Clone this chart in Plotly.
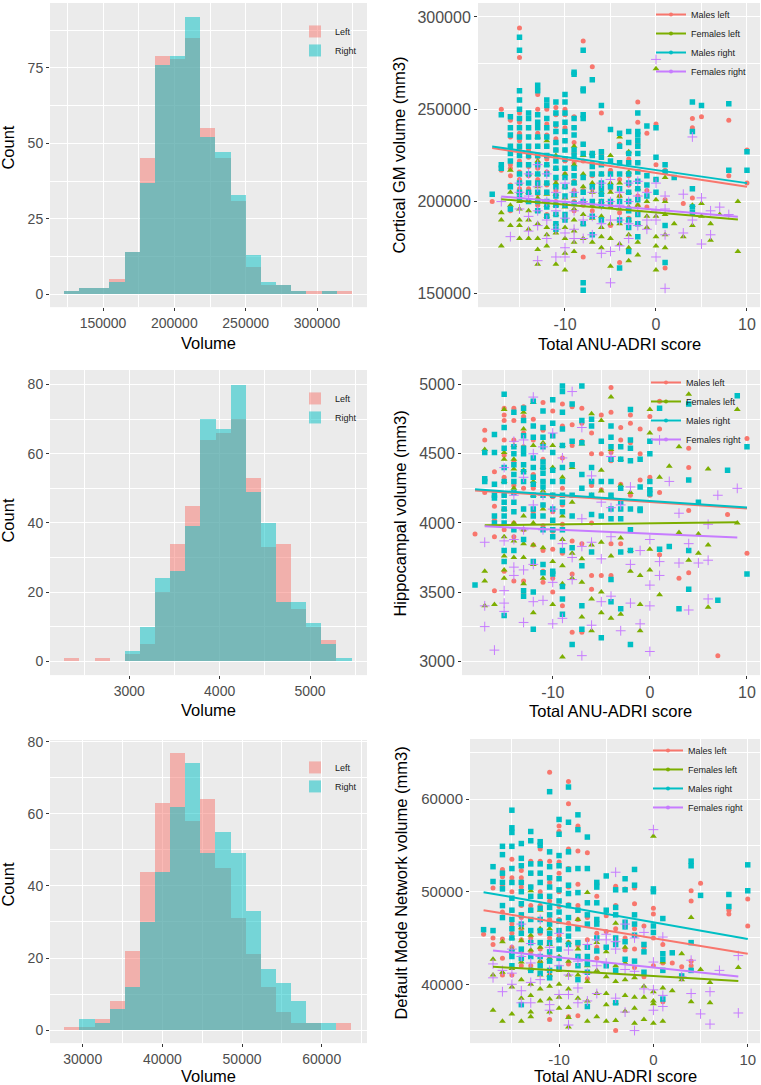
import numpy as np
import plotly.graph_objects as go

W, H = 761, 1085
FONT = "Liberation Sans, Arial, sans-serif"

# ---------------- Histogram data (counts per bin) ----------------
gm_bin_start, gm_bin_width = 122600, 10625
gm_left = [1, 2, 2, 5, 14, 45, 79, 78, 85, 55, 45, 31, 9, 3, 3, 1, 1, 1, 1]
gm_right = [1, 2, 2, 4, 14, 37, 76, 79, 92, 52, 47, 33, 13, 4, 3, 1, 0, 1, 0]

hc_bin_start, hc_bin_width = 2280, 167.4
hc_left = [1, 0, 1, 0, 2, 5, 20, 34, 45, 64, 66, 70, 53, 33, 34, 15, 10, 6, 0]
hc_right = [0, 0, 0, 0, 3, 10, 24, 26, 39, 70, 67, 80, 49, 40, 17, 17, 11, 5, 1]

dmn_bin_start, dmn_bin_width = 27700, 1896
dmn_left = [1, 1, 3, 8, 22, 44, 63, 77, 58, 64, 45, 31, 21, 12, 5, 2, 2, 0, 2]
dmn_right = [0, 3, 2, 6, 12, 30, 44, 62, 74, 49, 55, 49, 33, 17, 13, 8, 2, 2, 0]

# ---------------- Scatter data: score -> volumes ----------------
# Cortical GM volume, in thousands of mm3
gm_males_left = {
    -18: [200], -17: [250, 217],
    -16: [244, 235, 230, 220, 218, 214, 209, 195],
    -15: [294, 278, 255, 248, 243, 237, 233, 228, 222, 216, 212, 207, 201],
    -14: [245, 240, 235, 228, 224, 219, 214, 207, 200],
    -13: [261, 258, 250, 237, 230, 224, 218, 212, 209, 204, 198],
    -12: [250, 242, 236, 230, 223, 216, 209, 205, 200, 193],
    -11: [251, 247, 241, 234, 228, 218, 212, 206, 200],
    -10: [250, 247, 240, 233, 228, 222, 215, 208, 198],
    -9: [246, 240, 232, 226, 221, 211, 206, 200, 195],
    -8: [287, 246, 231, 222, 206, 198, 170],
    -7: [273, 221, 214, 207, 195], -6: [248, 225, 215, 207, 200],
    -5: [217, 207, 199, 187], -4: [231, 212, 203, 194, 167],
    -3: [232, 223, 214, 209, 191], -2: [254, 243, 231, 221, 203, 198],
    -1: [237, 206, 197], 0: [242, 220, 212], 1: [217, 201, 164],
    3: [199], 4: [245, 240, 202], 5: [246], 8: [244, 214], 10: [228, 210],
}
gm_females_left = {
    -17: [194, 190, 176], -16: [217, 205, 198, 187],
    -15: [210, 205, 200, 196, 190, 187, 180],
    -14: [215, 205, 200, 195, 190, 185, 180],
    -13: [235, 222, 215, 208, 202, 195, 188, 180, 174, 166],
    -12: [233, 220, 210, 204, 198, 192, 186, 182, 176],
    -11: [225, 218, 210, 204, 198, 193, 188, 183, 166],
    -10: [215, 208, 202, 197, 191, 186, 180, 172, 163],
    -9: [230, 220, 210, 203, 196, 190, 184, 178, 173],
    -8: [225, 215, 208, 200, 193, 188, 180],
    -7: [226, 210, 205, 198, 191, 178],
    -6: [215, 205, 200, 192, 186, 181, 175],
    -5: [225, 210, 205, 197, 188, 180, 165],
    -4: [235, 210, 203, 196, 188, 177],
    -3: [227, 216, 205, 197, 190, 182, 175, 168],
    -2: [207, 198, 188, 178, 171], -1: [200, 192, 186],
    0: [272, 201, 192, 181, 176, 163], 1: [213, 200, 193, 182, 175],
    2: [188], 3: [181], 4: [198, 187], 5: [199, 192], 6: [188, 179],
    7: [193], 9: [200, 173],
}
gm_males_right = {
    -18: [204], -17: [247, 220, 218],
    -16: [246, 240, 236, 230, 226, 222, 208, 196],
    -15: [289, 282, 260, 255, 250, 245, 240, 235, 230, 225, 220, 215, 210, 205, 202],
    -14: [248, 245, 240, 235, 230, 225, 220, 215, 210, 205, 200],
    -13: [263, 260, 247, 243, 240, 235, 230, 225, 220, 215, 210, 205, 200, 195],
    -12: [255, 252, 245, 240, 235, 230, 225, 220, 215, 210, 205, 200, 197, 192],
    -11: [254, 248, 242, 238, 232, 228, 222, 218, 213, 208, 203, 198, 193, 188, 185],
    -10: [258, 254, 248, 243, 238, 233, 228, 223, 218, 213, 208, 203, 198, 193, 190],
    -9: [270, 269, 245, 240, 236, 228, 225, 218, 214, 210, 204, 199],
    -8: [282, 261, 260, 247, 245, 231, 226, 213, 205, 200, 188, 156, 152],
    -7: [266, 226, 225, 219, 215, 208, 200, 192, 182],
    -6: [252, 227, 224, 220, 215, 210, 207, 204, 200, 198, 190],
    -5: [239, 222, 215, 208, 200],
    -4: [237, 230, 221, 215, 207, 200, 190, 164],
    -3: [238, 232, 226, 221, 215, 210, 205, 200, 195, 190, 186, 173],
    -2: [248, 238, 236, 233, 230, 226, 221, 216, 211, 207, 201, 193, 188, 181],
    -1: [241, 214, 209, 203], 0: [240, 224, 212, 205],
    1: [220, 216, 187, 167], 2: [213], 4: [254, 238, 207, 197, 194],
    5: [252], 8: [253, 217], 10: [227, 217],
}
gm_females_right = {
    -17: [200], -16: [181], -15: [210, 205, 196],
    -14: [215, 203, 192, 184], -13: [220, 208, 195, 187, 168],
    -12: [215, 200, 190, 180], -11: [205, 195, 185, 170],
    -10: [210, 200, 191, 183, 175, 170], -9: [205, 195, 185, 180],
    -8: [200, 190, 180], -7: [205, 192, 182], -6: [210, 198, 188, 172],
    -5: [212, 200, 190, 173, 156], -4: [205, 198, 190, 176],
    -3: [210, 200, 188, 180], -2: [211, 203, 195, 187], -1: [205, 190, 185],
    0: [277, 210, 195, 190, 170], 1: [203, 196, 182, 153], 3: [204, 183],
    4: [235, 190], 5: [202, 177], 6: [195, 182], 7: [197], 8: [193],
}
# fitted line end points (score, volume in thousands)
gm_fit_males_left = ([-18, 10], [229.0, 208.0])
gm_fit_females_left = ([-17, 9], [201.3, 190.3])
gm_fit_males_right = ([-18, 10], [229.8, 210.0])
gm_fit_females_right = ([-17, 9], [202.8, 191.8])

# Hippocampal volume, mm3
hc_males_left = {
    -18: [3920], -17: [4670, 4600, 4220], -16: [4370, 4120, 4020, 3900, 3510],
    -15: [4830, 4780, 4740, 4600, 4490, 4330, 4200, 4100, 3950, 3650],
    -14: [4830, 4740, 4600, 4440, 4270, 4000, 3900, 3580],
    -13: [4840, 4770, 4650, 4550, 4250, 4100, 3950, 3580, 3500],
    -12: [4880, 4750, 4600, 4350, 4250, 4080, 3840],
    -11: [4870, 4670, 4460, 4300, 4130, 3980, 3800, 3650, 3570],
    -10: [4810, 4380, 4190, 4080, 3940, 3810, 3600, 3500],
    -9: [4860, 4700, 4470, 4250, 4130, 3990, 3780, 3400],
    -8: [4840, 4710, 4560, 4420, 3870, 3630, 3210],
    -7: [4830, 4720, 4590, 3850, 3210], -6: [4650, 4500, 4270, 4000, 3620, 3520],
    -5: [4780, 4500, 4240, 3620], -4: [4980, 4800, 4510, 4450, 4200, 3850, 3620],
    -3: [4690, 4600, 4280, 3850], -2: [4780, 4720, 4580, 4200],
    -1: [4680, 4500, 4310], 0: [4770, 4330, 4240, 4200],
    1: [4880, 4680, 4220, 3770], 3: [3600], 4: [4540, 4400, 4090, 3640],
    7: [3040], 8: [4060], 10: [4610, 3780],
}
hc_females_left = {
    -17: [4530, 3650, 3580, 3400], -16: [3410],
    -15: [4820, 4510, 4460, 4300, 4100, 3900, 3760, 3660, 3600],
    -14: [4560, 4460, 4390, 4250, 4000, 3870, 3750],
    -13: [4800, 4680, 4380, 4050, 3950, 3850, 3750, 3560],
    -12: [4870, 4560, 4300, 4200, 4000, 3840, 3700, 3350],
    -11: [4580, 4400, 4230, 4100, 3960, 3820, 3600],
    -10: [4560, 4400, 4200, 3950, 3720, 3410],
    -9: [4560, 4330, 4050, 3880, 3690, 3560, 3030],
    -8: [4400, 4150, 3780, 3600], -7: [4570, 3740, 3570, 3320],
    -6: [4790, 4200, 3840, 3450, 3220], -5: [4740, 4380, 4230, 3860, 3500, 3350],
    -4: [4910, 4530, 4190, 3760, 3310], -3: [4460, 4270, 3890, 3340],
    -2: [4220, 3800, 3650], -1: [3620, 3410, 3220], 0: [4820, 4650, 3810, 3660],
    1: [4330, 3480], 2: [4410], 3: [4550, 3930], 4: [4930, 3730],
    5: [3920, 3780], 6: [4390, 3840, 3390], 9: [4820, 4000],
}
hc_males_right = {
    -18: [3550], -17: [4510, 4320, 4300],
    -16: [4640, 4510, 4280, 4200, 4180, 4050, 4000],
    -15: [4930, 4690, 4540, 4400, 4300, 4200, 4150, 4100, 4050, 4000, 3800, 3720, 3330],
    -14: [4800, 4550, 4500, 4420, 4350, 4300, 4220, 4150, 4080, 3950, 3800],
    -13: [4830, 4740, 4630, 4540, 4500, 4420, 4370, 4300, 4100, 3880, 3510, 3470],
    -12: [4880, 4700, 4620, 4470, 4400, 4330, 4280, 4200, 4100, 4050, 3720, 3500, 3230],
    -11: [4810, 4690, 4620, 4550, 4440, 4400, 4360, 4300, 4260, 4200, 4130, 4050, 3950, 3700, 3640],
    -10: [4890, 4720, 4630, 4510, 4380, 4300, 4200, 4100, 4020, 3950, 3900, 3650, 3630],
    -9: [4990, 4950, 4800, 4680, 4560, 4400, 4300, 4200, 4150, 4080, 3950, 3800, 3540, 3450, 3340],
    -8: [4860, 4590, 4420, 4200, 4050, 3820, 3120],
    -7: [4990, 4740, 4580, 4350, 4250, 3690, 3400, 3230],
    -6: [4750, 4700, 4400, 4300, 4200, 4060, 3790], -5: [4590, 4300, 4050, 3170],
    -4: [4700, 4620, 4550, 4460, 4300, 4200, 4100, 4030, 3590, 3430],
    -3: [4550, 4460, 4250, 4150, 4100, 4030, 3790, 3380],
    -2: [4820, 4600, 4540, 4450, 4100, 3950, 3800, 3120],
    -1: [4460, 4260, 4100, 4090], 0: [4590, 4500, 4300, 4240, 4210],
    1: [4830, 3810], 2: [3830], 3: [3380], 4: [4860, 4310, 3800, 3520],
    5: [4150], 7: [3440], 8: [4380], 9: [4920], 10: [4550, 3630],
}
hc_females_right = {
    -17: [3860, 3400, 3250], -16: [3080], -15: [4400, 3870, 3510, 3420, 3360],
    -14: [4590, 4200, 3880, 3680, 3620], -13: [4600, 4330, 3950, 3660, 3280],
    -12: [4910, 4500, 4130, 3700, 3430], -11: [4550, 4200, 3950, 3440],
    -10: [4650, 4100, 3570, 3270], -9: [4470, 3850, 3310], -8: [4950, 3750, 3590],
    -7: [4690, 4030, 3830, 3040], -6: [4340, 3860, 3260], -5: [4150, 3740, 3430],
    -4: [4480, 4110, 3900, 3470], -3: [4130, 3220], -2: [4260, 3700, 3420],
    -1: [3800, 3270], 0: [3880, 3550, 3400, 3070], 1: [4600, 3720, 3620],
    2: [4300], 3: [4070, 3710], 4: [3850, 3370], 5: [3710],
    6: [3990, 3730, 3450], 7: [4200], 9: [4250],
}
hc_fit_males_left = ([-18, 10], [4235, 4105])
hc_fit_females_left = ([-17, 9], [3983, 4005])
hc_fit_males_right = ([-18, 10], [4243, 4112])
hc_fit_females_right = ([-17, 9], [3975, 3895])

# Default Mode Network volume, in thousands of mm3
dmn_males_left = {
    -18: [45.4], -17: [50.4, 45.0, 44.3],
    -16: [52.4, 51.6, 50.6, 47.8, 44.9, 42.8, 41.0],
    -15: [53.5, 51.5, 50.0, 48.0, 46.5, 45.5, 44.0, 41.0],
    -14: [52.3, 51.5, 50.5, 48.5, 47.2, 46.0, 44.8, 43.5, 42.0],
    -13: [53.3, 52.0, 50.5, 48.5, 47.0, 45.0, 43.5, 42.0],
    -12: [54.6, 53.3, 52.0, 50.0, 48.5, 47.0, 45.5, 43.8, 42.4],
    -11: [62.9, 53.3, 51.0, 49.0, 47.0, 45.0, 43.0, 41.0, 36.2],
    -10: [57.1, 56.5, 53.2, 52.0, 50.0, 48.4, 47.0, 45.3, 43.8, 41.8],
    -9: [61.9, 59.5, 54.6, 52.5, 50.5, 48.6, 46.6, 44.5, 42.2, 36.5],
    -8: [57.1, 54.4, 50.8, 48.5, 47.0, 44.2, 36.6],
    -7: [54.2, 47.2, 44.8, 42.7, 40.6], -6: [50.9, 49.5, 45.5, 44.0, 42.8],
    -5: [47.4, 45.7, 44.0], -4: [50.6, 48.5, 46.0, 44.5, 35.0],
    -3: [50.3, 46.3, 45.0, 43.7], -2: [50.4, 48.7, 46.0, 43.8, 41.8],
    -1: [46.3, 44.0, 40.8], 0: [48.2, 47.6, 45.0, 42.0], 1: [44.3, 42.3, 38.1],
    2: [42.3], 3: [41.9], 4: [50.1, 49.0, 42.5, 42.0], 5: [50.9],
    8: [48.0, 47.6], 10: [49.2, 46.3],
}
dmn_females_left = {
    -17: [42.7, 41.0, 37.2], -16: [44.6, 41.3, 36.0],
    -15: [45.0, 43.8, 41.7, 39.7, 36.8], -14: [46.1, 44.7, 42.4, 40.5, 38.5, 36.0],
    -13: [50.1, 45.3, 43.7, 41.6, 40.0, 38.8, 37.0, 36.5],
    -12: [48.0, 46.0, 44.0, 42.5, 41.0, 39.5, 38.2],
    -11: [46.0, 44.3, 42.8, 41.0, 39.8, 38.4, 37.0],
    -10: [45.0, 43.0, 41.5, 40.0, 38.6, 37.4],
    -9: [44.5, 42.5, 41.0, 39.5, 37.5, 36.4, 35.4],
    -8: [47.0, 43.8, 41.0, 38.5], -7: [49.9, 42.0, 40.3, 38.2, 36.0],
    -6: [44.5, 41.5, 39.0, 36.5], -5: [43.5, 40.8, 39.0, 37.8, 36.0],
    -4: [46.6, 42.0, 40.3, 38.0, 36.1], -3: [44.0, 42.3, 40.5, 38.8, 37.1],
    -2: [40.7, 38.6, 37.4, 35.8], -1: [39.8, 38.6, 36.2],
    0: [56.0, 39.2, 38.2, 37.9, 35.8], 1: [42.4, 39.6, 36.0], 2: [39.3],
    3: [43.3, 40.5], 4: [47.2, 38.1], 5: [41.6], 6: [40.2, 38.0], 9: [41.8],
}
dmn_males_right = {
    -18: [45.9], -17: [52.7, 51.1, 45.8],
    -16: [54.9, 54.0, 52.0, 51.0, 50.3, 48.5, 47.2],
    -15: [58.8, 56.9, 56.4, 54.9, 52.5, 51.0, 49.3, 48.0, 47.0, 46.0, 45.0, 43.5, 43.0, 42.0],
    -14: [55.2, 53.6, 52.8, 51.0, 50.0, 48.7, 47.5, 46.5, 45.5, 43.8, 42.8, 37.8],
    -13: [56.5, 55.5, 53.0, 52.0, 50.5, 49.5, 48.0, 47.0, 45.8, 44.5, 43.0, 41.5],
    -12: [55.4, 55.0, 53.0, 52.0, 51.0, 49.5, 48.2, 47.0, 45.8, 44.5, 43.0, 42.0, 41.2],
    -11: [60.8, 54.3, 52.7, 51.5, 50.5, 49.5, 48.3, 47.5, 46.5, 45.5, 44.5, 43.5, 42.5, 41.5, 40.7],
    -10: [57.8, 56.2, 53.9, 52.8, 51.4, 50.2, 49.0, 47.8, 46.8, 45.8, 44.8, 43.8, 42.8, 41.8],
    -9: [61.3, 57.5, 54.3, 52.4, 50.7, 49.8, 48.5, 47.2, 46.0, 45.2, 44.3],
    -8: [58.3, 56.7, 52.5, 49.9, 48.0, 46.0, 44.5, 43.0, 42.0, 40.5],
    -7: [55.9, 52.5, 48.8, 47.5, 46.5, 44.0, 43.0, 42.2, 41.3, 37.6],
    -6: [51.0, 50.5, 48.8, 47.0, 46.5, 45.0, 43.6], -5: [51.7, 48.0, 44.0, 42.0],
    -4: [50.2, 48.3, 47.5, 45.0, 44.3, 41.5, 38.0],
    -3: [51.4, 50.2, 46.7, 46.2, 44.6, 42.7], -2: [52.4, 50.7, 47.5, 46.5, 45.3, 42.5],
    -1: [44.3, 43.5, 41.3], 0: [50.3, 50.0, 46.3, 45.6],
    1: [47.1, 43.3, 42.7, 41.5, 38.4], 2: [43.4], 3: [40.9],
    4: [53.3, 52.8, 44.5, 41.5], 5: [49.6], 8: [49.7, 48.4], 10: [52.9, 50.1],
}
dmn_females_right = {
    -17: [42.2, 40.7], -16: [41.5, 39.2], -15: [43.8, 41.2, 40.0],
    -14: [46.5, 43.0, 39.3, 38.0], -13: [44.4, 42.3, 40.2, 38.0],
    -12: [47.0, 43.0, 40.5], -11: [44.0, 41.5, 37.8, 37.2], -10: [45.5, 42.0, 38.9],
    -9: [43.7, 41.0, 38.9, 35.6], -8: [42.5, 39.6, 38.0], -7: [44.3, 41.2, 38.2],
    -6: [44.8, 42.0, 39.0], -5: [45.4, 44.8, 42.3], -4: [52.1, 44.6, 43.8, 38.5],
    -3: [46.5, 41.6, 37.0], -2: [45.0, 41.4, 35.0], -1: [45.6, 39.5],
    0: [56.7, 42.4, 39.4, 37.2], 1: [45.1, 38.8, 37.6], 3: [40.8],
    4: [42.6, 39.0], 5: [36.8], 6: [39.2, 35.7], 7: [41.5], 9: [43.1, 36.9],
}
dmn_fit_males_left = ([-18, 10], [48.0, 43.3])
dmn_fit_females_left = ([-17, 9], [41.9, 40.35])
dmn_fit_males_right = ([-18, 10], [49.95, 44.9])
dmn_fit_females_right = ([-17, 9], [43.65, 40.85])

series_names = ["Males left", "Females left", "Males right", "Females right"]
series_colors = ["#F8766D", "#7CAE00", "#00BFC4", "#C77CFF"]
hist_names = ["Left", "Right"]
hist_colors = ["rgba(248,118,109,0.5)", "rgba(0,191,196,0.5)"]

# ---------------- Figure ----------------
fig = go.Figure()
PANEL_BG = "#EBEBEB"


def px_x(p):
    return p / W


def px_y(p):
    return 1 - p / H


def add_hist(ax, start, width, left, right, legend):
    centers = start + width * (np.arange(len(left)) + 0.5)
    for name, col, counts in zip(hist_names, hist_colors, [left, right]):
        fig.add_trace(go.Bar(
            x=centers, y=counts, width=width, name=name,
            marker=dict(color=col, line=dict(width=0)),
            xaxis="x" + ax, yaxis="y" + ax, legend=legend,
        ))


def expand(d, scale=1.0):
    xs, ys = [], []
    for k, vals in d.items():
        for v in vals:
            xs.append(k)
            ys.append(v * scale)
    return xs, ys


def add_scatter(ax, data, fits, legend, scale):
    symbols = ["circle", "triangle-up", "square", "cross-thin"]
    sizes = [5, 6, 5.5, 7]
    for d, col, sym, sz in zip(data, series_colors, symbols, sizes):
        xs, ys = expand(d, scale)
        mk = dict(color=col, symbol=sym, size=sz)
        if sym == "cross-thin":
            mk["line"] = dict(color=col, width=1)
        fig.add_trace(go.Scatter(x=xs, y=ys, mode="markers", marker=mk,
                                 showlegend=False, xaxis="x" + ax, yaxis="y" + ax,
                                 hoverinfo="skip"))
    for (fx, fy), col in zip(fits, series_colors):
        fig.add_trace(go.Scatter(x=fx, y=[v * scale for v in fy], mode="lines",
                                 line=dict(color=col, width=2), showlegend=False,
                                 xaxis="x" + ax, yaxis="y" + ax))
    for name, col in zip(series_names, series_colors):
        fig.add_trace(go.Scatter(x=[None], y=[None], mode="lines+markers", name=name,
                                 line=dict(color=col, width=2),
                                 marker=dict(color=col, size=4),
                                 xaxis="x" + ax, yaxis="y" + ax, legend=legend))


add_hist("", gm_bin_start, gm_bin_width, gm_left, gm_right, "legend")
add_scatter("2", [gm_males_left, gm_females_left, gm_males_right, gm_females_right],
            [gm_fit_males_left, gm_fit_females_left, gm_fit_males_right, gm_fit_females_right],
            "legend2", 1000)
add_hist("3", hc_bin_start, hc_bin_width, hc_left, hc_right, "legend3")
add_scatter("4", [hc_males_left, hc_females_left, hc_males_right, hc_females_right],
            [hc_fit_males_left, hc_fit_females_left, hc_fit_males_right, hc_fit_females_right],
            "legend4", 1)
add_hist("5", dmn_bin_start, dmn_bin_width, dmn_left, dmn_right, "legend5")
add_scatter("6", [dmn_males_left, dmn_females_left, dmn_males_right, dmn_females_right],
            [dmn_fit_males_left, dmn_fit_females_left, dmn_fit_males_right, dmn_fit_females_right],
            "legend6", 1000)


def axis(domain, rng, dtick, minor, anchor, fontsize, tickvals=None, ticktext=None):
    a = dict(domain=domain, range=rng, dtick=dtick, tick0=0, anchor=anchor,
             showgrid=True, gridcolor="white", gridwidth=1.1, zeroline=False,
             showline=False, ticks="outside", ticklen=3, tickcolor="#333333",
             tickwidth=1, tickformat="d",
             tickfont=dict(family=FONT, size=fontsize, color="#4D4D4D"),
             minor=dict(dtick=minor, tick0=0, showgrid=True, gridcolor="white",
                        gridwidth=0.5, ticks=""),
             fixedrange=True, automargin=False)
    if tickvals is not None:
        a["tickmode"] = "array"
        a["tickvals"] = tickvals
        a["ticktext"] = ticktext
    return a


# panel pixel boxes (left, right, top, bottom)
boxes = {
    "1": (50, 367, 0, 305), "2": (478, 760, 0, 305),
    "3": (50, 367, 368, 674), "4": (462, 760, 368, 674),
    "5": (50, 367, 739, 1043), "6": (470, 760, 738, 1043),
}


def dom(k):
    l, r, t, b = boxes[k]
    return [px_x(l), px_x(r)], [px_y(b), px_y(t)]


sx_vals = [-10, 0, 10]
sx_text = ["-10", "0", "10"]

layout = dict(
    width=W, height=H, margin=dict(l=0, r=0, t=0, b=0),
    paper_bgcolor="white", plot_bgcolor=PANEL_BG, barmode="overlay", bargap=0,
    font=dict(family=FONT, color="#000000"),
)
d = dom("1")
layout["xaxis"] = axis(d[0], [112850, 335046], 50000, 25000, "y", 14)
layout["yaxis"] = axis(d[1], [-4.3, 96.5], 25, 12.5, "x", 14)
d = dom("2")
layout["xaxis2"] = axis(d[0], [-19.56, 11.43], 10, 5, "y2", 16, sx_vals, sx_text)
layout["yaxis2"] = axis(d[1], [142815, 307560], 50000, 25000, "x2", 16)
d = dom("3")
layout["xaxis3"] = axis(d[0], [2122, 5631], 1000, 500, "y3", 14)
layout["yaxis3"] = axis(d[1], [-4.04, 84.2], 20, 10, "x3", 14)
d = dom("4")
layout["xaxis4"] = axis(d[0], [-19.34, 11.34], 10, 5, "y4", 16, sx_vals, sx_text)
layout["yaxis4"] = axis(d[1], [2899, 5106], 500, 250, "x4", 16)
d = dom("5")
layout["xaxis5"] = axis(d[0], [25896, 65686], 10000, 5000, "y5", 14)
layout["yaxis5"] = axis(d[1], [-3.6, 80.47], 20, 10, "x5", 14)
d = dom("6")
layout["xaxis6"] = axis(d[0], [-19.44, 11.3], 10, 5, "y6", 15, sx_vals, sx_text)
layout["yaxis6"] = axis(d[1], [33646, 66494], 10000, 5000, "x6", 15)

legfont = dict(family=FONT, size=9, color="#1a1a1a")


def make_legend(left_px, top_px):
    return dict(x=px_x(left_px), y=px_y(top_px), xanchor="left", yanchor="top",
                bgcolor="rgba(0,0,0,0)", borderwidth=0, font=legfont,
                tracegroupgap=0, itemclick=False, itemdoubleclick=False)


layout["legend"] = make_legend(295, 14)
layout["legend3"] = make_legend(295, 382)
layout["legend5"] = make_legend(295, 752)
layout["legend2"] = make_legend(651, -3)
layout["legend4"] = make_legend(646, 366)
layout["legend6"] = make_legend(648, 735)

titles = [
    ("Count", 8, 145, -90), ("Volume", 208, 341, 0),
    ("Cortical GM volume (mm3)", 399, 152, -90), ("Total ANU-ADRI score", 619, 342, 0),
    ("Count", 8, 519, -90), ("Volume", 208, 709, 0),
    ("Hippocampal volume (mm3)", 400, 512, -90), ("Total ANU-ADRI score", 610, 710, 0),
    ("Count", 8, 884, -90), ("Volume", 208, 1076, 0),
    ("Default Mode Network volume (mm3)", 401, 883, -90), ("Total ANU-ADRI score", 615, 1076, 0),
]
anns = []
for text, x, y, ang in titles:
    anns.append(dict(text=text, x=px_x(x), y=px_y(y), xref="paper", yref="paper",
                     showarrow=False, textangle=ang, xanchor="center", yanchor="middle",
                     font=dict(family=FONT, size=16.5, color="#000000")))
layout["annotations"] = anns

fig.update_layout(**layout)
fig.write_html("out.html", config={"displayModeBar": False},
               post_script="document.body.style.margin='0px';document.body.style.padding='0px';")
